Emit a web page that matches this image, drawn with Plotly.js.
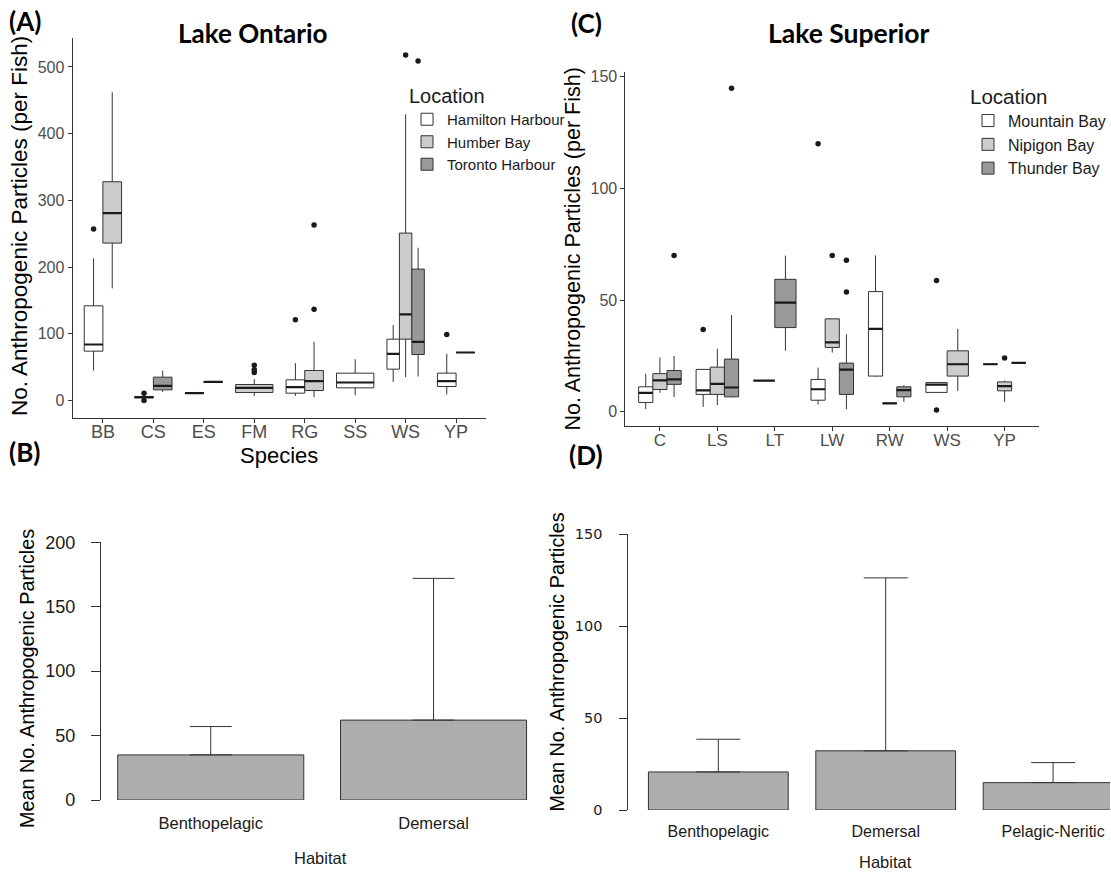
<!DOCTYPE html>
<html>
<head>
<meta charset="utf-8">
<script src="https://cdn.plot.ly/plotly-3.0.1.min.js"></script>
<style>html,body{margin:0;padding:0;background:#fff;}#chart{width:1111px;height:875px;}</style>
</head>
<body>
<div id="chart"></div>
<script>
// ---------------- DATA ----------------
// Panel A: Lake Ontario
const ontSpecies = ['BB','CS','ES','FM','RG','SS','WS','YP'];
const ontLocations = ['Hamilton Harbour','Humber Bay','Toronto Harbour'];
const ontBoxSpecies = ['BB','BB','CS','CS','ES','ES','FM','RG','RG','SS','WS','WS','WS','YP','YP'];
const ontBoxLoc = ['Hamilton Harbour','Humber Bay','Hamilton Harbour','Toronto Harbour','Hamilton Harbour','Toronto Harbour','Humber Bay','Hamilton Harbour','Humber Bay','Hamilton Harbour','Hamilton Harbour','Humber Bay','Toronto Harbour','Hamilton Harbour','Humber Bay'];
const ontLower  = [45,168,4,13,11,27,7,7,5,8,28,35,36,9,72];
const ontQ1     = [74,236,4,16,11,27,12,11,15,19,47,92,69,21,72];
const ontMedian = [84,281,5,22,11,28,19,20,29,27,70,129,88,29,72];
const ontQ3     = [142,328,6,35,11,28,24,31,45,41,92,251,197,41,72];
const ontUpper  = [213,462,7,45,13,28,32,56,88,62,113,429,229,70,72];
const ontOutSpecies = ['BB','CS','CS','FM','FM','FM','RG','RG','RG','WS','WS','YP'];
const ontOutLoc = ['Hamilton Harbour','Hamilton Harbour','Hamilton Harbour','Humber Bay','Humber Bay','Humber Bay','Hamilton Harbour','Humber Bay','Humber Bay','Humber Bay','Toronto Harbour','Hamilton Harbour'];
const ontOutValue = [257,11,0,53,46,42,121,137,263,518,509,99];
const ontYTicks = [0,100,200,300,400,500];

// Panel C: Lake Superior
const supSpecies = ['C','LS','LT','LW','RW','WS','YP'];
const supLocations = ['Mountain Bay','Nipigon Bay','Thunder Bay'];
const supBoxSpecies = ['C','C','C','LS','LS','LS','LT','LT','LW','LW','LW','RW','RW','RW','WS','WS','YP','YP','YP'];
const supBoxLoc = ['Mountain Bay','Nipigon Bay','Thunder Bay','Mountain Bay','Nipigon Bay','Thunder Bay','Mountain Bay','Thunder Bay','Mountain Bay','Nipigon Bay','Thunder Bay','Mountain Bay','Nipigon Bay','Thunder Bay','Mountain Bay','Nipigon Bay','Mountain Bay','Nipigon Bay','Thunder Bay'];
const supLower  = [1.2,8.5,6.6, 2.2,3,6.5, 14,27.3, 3.3,26.5,1.2, 15.8,3.8,4.5, 8.5,9.4, 21.3,4.5,21.9];
const supQ1     = [4.2,10,12.3, 7.8,7.8,6.7, 14,37.7, 5.2,28.8,7.8, 16,3.8,6.7, 8.7,16, 21.3,9.4,21.9];
const supMedian = [8.5,14.1,14.5, 9.6,12.5,10.9, 14,48.9, 10.1,31.1,18.9, 37.1,3.8,9.7, 12.2,21.3, 21.3,11.5,21.9];
const supQ3     = [11.2,17.1,18.5, 19,20,23.6, 14,59.3, 14.5,41.6,21.8, 53.8,3.8,11.2, 13.1,27.3, 21.3,13.4,21.9];
const supUpper  = [17.1,24.3,25, 19,28.2,43.3, 14,69.9, 19.8,41.6,34.7, 70,3.8,11.9, 13.1,37.1, 21.3,14,21.9];
const supOutSpecies = ['C','LS','LS','LW','LW','LW','LW','WS','WS','YP'];
const supOutLoc = ['Thunder Bay','Mountain Bay','Thunder Bay','Mountain Bay','Nipigon Bay','Thunder Bay','Thunder Bay','Mountain Bay','Mountain Bay','Nipigon Bay'];
const supOutValue = [70,36.8,144.8,120,70,67.8,53.6,58.8,0.8,24.1];
const supYTicks = [0,50,100,150];

// Panel B: Lake Ontario habitat means
const ontHabitats = ['Benthopelagic','Demersal'];
const ontHabMean  = [35,62];
const ontHabUpper = [57,172];
const ontHabTicks = [0,50,100,150,200];

// Panel D: Lake Superior habitat means
const supHabitats = ['Benthopelagic','Demersal','Pelagic-Neritic'];
const supHabMean  = [20.7,32.2,14.9];
const supHabUpper = [38.5,126.3,25.8];
const supHabTicks = [0,50,100,150];

// ---------------- STYLE ----------------
const W = 1111, H = 875;
const dx = p => p / W;
const dy = p => 1 - p / H;
const fills = ['#ffffff','#cccccc','#999999'];
const edge = '#333333';
const SANS = 'Liberation Sans, Arial, sans-serif';
const BOLD = 'Lato, Carlito, sans-serif';
const DODGE = 0.74;

function dodge(speciesList, boxSpecies, boxLoc, locations) {
  const pos = [], wid = [];
  for (let i = 0; i < boxSpecies.length; i++) {
    const sp = boxSpecies[i];
    const present = locations.filter(l => boxSpecies.some((s, j) => s === sp && boxLoc[j] === l));
    const n = present.length, k = present.indexOf(boxLoc[i]);
    const w = DODGE / n;
    pos.push(speciesList.indexOf(sp) + 1 - DODGE / 2 + (k + 0.5) * w);
    wid.push(w);
  }
  return {pos, wid};
}

const traces = [];
function addBoxPanel(speciesList, locations, bS, bL, lo, q1, md, q3, up, oS, oL, oV, xa, ya, legendId) {
  const d = dodge(speciesList, bS, bL, locations);
  const shown = {};
  for (let i = 0; i < bS.length; i++) {
    const li = locations.indexOf(bL[i]);
    traces.push({
      type: 'box', orientation: 'v', x: [d.pos[i]],
      q1: [q1[i]], median: [md[i]], q3: [q3[i]], lowerfence: [lo[i]], upperfence: [up[i]],
      width: d.wid[i], whiskerwidth: 0, boxpoints: false,
      fillcolor: fills[li], line: {color: edge, width: 1},
      name: bL[i], legendgroup: legendId + bL[i], legendrank: li + 1,
      showlegend: !shown[bL[i]], legend: legendId,
      xaxis: xa, yaxis: ya, hoverinfo: 'skip'
    });
    shown[bL[i]] = true;
  }
  // thicker median lines (ggplot fatten)
  const mx = [], my = [];
  for (let i = 0; i < bS.length; i++) {
    mx.push(d.pos[i] - d.wid[i] / 2, d.pos[i] + d.wid[i] / 2, null);
    my.push(md[i], md[i], null);
  }
  traces.push({type: 'scatter', mode: 'lines', x: mx, y: my, line: {color: '#1a1a1a', width: 2.2},
    showlegend: false, xaxis: xa, yaxis: ya, hoverinfo: 'skip'});
  // outliers
  const ox = oS.map((s, i) => {
    const idx = bS.findIndex((b, j) => b === s && bL[j] === oL[i]);
    return d.pos[idx];
  });
  traces.push({type: 'scatter', mode: 'markers', x: ox, y: oV,
    marker: {color: '#1a1a1a', size: 5.5}, showlegend: false, xaxis: xa, yaxis: ya, hoverinfo: 'skip'});
}

addBoxPanel(ontSpecies, ontLocations, ontBoxSpecies, ontBoxLoc, ontLower, ontQ1, ontMedian, ontQ3, ontUpper,
  ontOutSpecies, ontOutLoc, ontOutValue, 'x', 'y', 'legend');
addBoxPanel(supSpecies, supLocations, supBoxSpecies, supBoxLoc, supLower, supQ1, supMedian, supQ3, supUpper,
  supOutSpecies, supOutLoc, supOutValue, 'x2', 'y2', 'legend2');

traces.push({type: 'bar', x: ontHabitats, y: ontHabMean, xaxis: 'x3', yaxis: 'y3', showlegend: false,
  marker: {color: '#adadad', line: {color: edge, width: 1}},
  error_y: {type: 'data', symmetric: false, array: ontHabUpper.map((u, i) => u - ontHabMean[i]),
    arrayminus: ontHabMean.map(() => 0), color: edge, thickness: 1, width: 21}, hoverinfo: 'skip'});
traces.push({type: 'bar', x: supHabitats, y: supHabMean, xaxis: 'x4', yaxis: 'y4', showlegend: false,
  marker: {color: '#adadad', line: {color: edge, width: 1}},
  error_y: {type: 'data', symmetric: false, array: supHabUpper.map((u, i) => u - supHabMean[i]),
    arrayminus: supHabMean.map(() => 0), color: edge, thickness: 1, width: 22}, hoverinfo: 'skip'});

const ggX = (dom, range, labels, size, so) => ({
  domain: dom, range: range, tickvals: labels.map((_, i) => i + 1), ticktext: labels,
  showline: true, linecolor: edge, linewidth: 1, ticks: 'outside', ticklen: 4, tickcolor: edge,
  ticklabelstandoff: so,
  showgrid: false, zeroline: false, tickfont: {family: SANS, size: size, color: '#4d4d4d'}, fixedrange: true
});
const ggY = (dom, range, ticks, size) => ({
  domain: dom, range: range, tickvals: ticks,
  showline: true, linecolor: edge, linewidth: 1, ticks: 'outside', ticklen: 4, tickcolor: edge,
  showgrid: false, zeroline: false, tickfont: {family: SANS, size: size, color: '#4d4d4d'}, fixedrange: true
});

const ann = (text, x, y, font, extra) => Object.assign({
  text: text, x: dx(x), y: dy(y), xref: 'paper', yref: 'paper', showarrow: false,
  xanchor: 'center', yanchor: 'middle', font: font
}, extra || {});

const layout = {
  width: W, height: H, margin: {l: 0, r: 0, t: 0, b: 0},
  paper_bgcolor: '#ffffff', plot_bgcolor: 'rgba(0,0,0,0)',
  font: {family: SANS, color: '#1a1a1a'},
  boxmode: 'overlay', bargap: 0.165,
  xaxis: Object.assign(ggX([dx(72.7), dx(486.8)], [0.4, 8.6], ontSpecies, 18, -6), {anchor: 'y'}),
  yaxis: Object.assign(ggY([dy(417.8), dy(37.7)], [-25.9, 543.9], ontYTicks, 16), {anchor: 'x'}),
  xaxis2: Object.assign(ggX([dx(626), dx(1040)], [0.4, 7.6], supSpecies, 17, -5), {anchor: 'y2'}),
  yaxis2: Object.assign(ggY([dy(425.7), dy(71.7)], [-6.2, 152.2], supYTicks, 16), {anchor: 'x2'}),
  xaxis3: {domain: [dx(101), dx(545)], range: [-0.493, 1.498], type: 'category', anchor: 'y3',
    showline: false, ticks: '', showgrid: false, zeroline: false, ticklabelstandoff: 11,
    tickfont: {family: SANS, size: 16.5, color: '#1a1a1a'}, fixedrange: true},
  yaxis3: {domain: [dy(800), dy(542.3)], range: [0, 200], tickvals: ontHabTicks, anchor: 'x3',
    showline: true, linecolor: edge, linewidth: 1, ticks: 'outside', ticklen: 9, tickcolor: edge,
    showgrid: false, zeroline: false, ticklabelstandoff: 12,
    tickfont: {family: SANS, size: 18, color: '#1a1a1a'}, fixedrange: true},
  xaxis4: {domain: [dx(629), dx(1111)], range: [-0.537, 2.34], type: 'category', anchor: 'y4',
    showline: false, ticks: '', showgrid: false, zeroline: false, ticklabelstandoff: 10,
    tickfont: {family: SANS, size: 16, color: '#1a1a1a'}, fixedrange: true},
  yaxis4: {domain: [dy(810), dy(534.3)], range: [0, 150], tickvals: supHabTicks, anchor: 'x4',
    showline: true, linecolor: edge, linewidth: 1, ticks: 'outside', ticklen: 8, tickcolor: edge,
    showgrid: false, zeroline: false, ticklabelstandoff: 14,
    tickfont: {family: 'DejaVu Sans, sans-serif', size: 14.5, color: '#1a1a1a'}, fixedrange: true},
  legend: {x: dx(407), y: dy(77), xanchor: 'left', yanchor: 'top', bgcolor: 'rgba(0,0,0,0)',
    title: {text: 'Location', font: {family: SANS, size: 20, color: '#1a1a1a'}},
    font: {family: SANS, size: 15, color: '#1a1a1a'}, tracegroupgap: 0, traceorder: 'normal'},
  legend2: {x: dx(969), y: dy(77), xanchor: 'left', yanchor: 'top', bgcolor: 'rgba(0,0,0,0)',
    title: {text: 'Location', font: {family: SANS, size: 20.5, color: '#1a1a1a'}},
    font: {family: SANS, size: 16, color: '#1a1a1a'}, tracegroupgap: 0, traceorder: 'normal'},
  annotations: [
    ann('<b>(A)</b>', 25, 21, {family: BOLD, size: 26, color: '#000'}),
    ann('<b>(B)</b>', 25, 452, {family: BOLD, size: 26, color: '#000'}),
    ann('<b>(C)</b>', 587, 23, {family: BOLD, size: 26, color: '#000'}),
    ann('<b>(D)</b>', 587, 455, {family: BOLD, size: 26, color: '#000'}),
    ann('<b>Lake Ontario</b>', 253, 33, {family: BOLD, size: 26, color: '#000'}),
    ann('<b>Lake Superior</b>', 850, 33, {family: BOLD, size: 26.5, color: '#000'}),
    ann('Species', 279, 455, {family: SANS, size: 22, color: '#000'}),
    ann('No. Anthropogenic Particles (per Fish)', 20, 226, {family: SANS, size: 22.5, color: '#000'}, {textangle: -90}),
    ann('No. Anthropogenic Particles (per Fish)', 574, 249, {family: SANS, size: 21.5, color: '#000'}, {textangle: -90}),
    ann('Mean No. Anthropogenic Particles', 27, 678, {family: SANS, size: 19.8, color: '#000'}, {textangle: -90}),
    ann('Mean No. Anthropogenic Particles', 558, 662, {family: SANS, size: 19.8, color: '#000'}, {textangle: -90}),
    ann('Habitat', 321, 858, {family: SANS, size: 16.5, color: '#1a1a1a'}),
    ann('Habitat', 886, 862, {family: SANS, size: 16.5, color: '#1a1a1a'})
  ]
};

Plotly.newPlot('chart', traces, layout, {displayModeBar: false, staticPlot: true});
</script>
</body>
</html>
